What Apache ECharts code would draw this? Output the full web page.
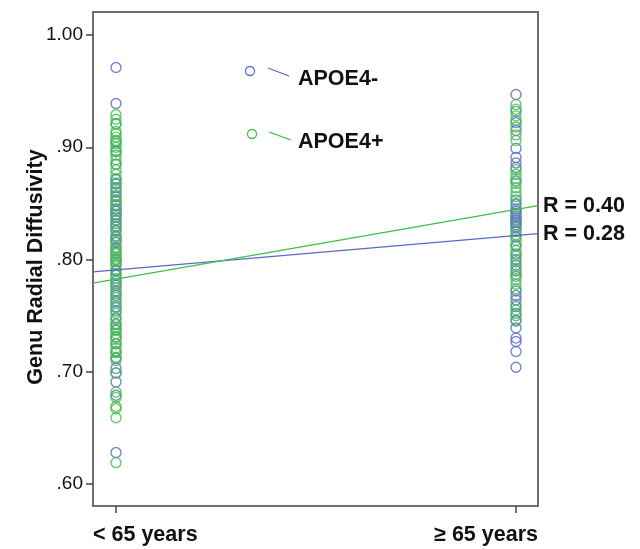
<!DOCTYPE html>
<html>
<head>
<meta charset="utf-8">
<script src="https://cdn.jsdelivr.net/npm/echarts@6/dist/echarts.min.js"></script>
<style>
html,body{margin:0;padding:0;background:#fff;}
#chart{width:640px;height:549px;}
</style>
</head>
<body>
<div id="chart"></div>
<script>
// ---- Data ----
var xLabels = ['< 65 years', '\u2265 65 years'];
var yTicks = [0.6, 0.7, 0.8, 0.9, 1.0];
var seriesNames = ['APOE4-', 'APOE4+'];

// APOE4- (blue), age < 65
var negYoung = [0.971, 0.939, 0.921, 0.905, 0.896, 0.885, 0.872, 0.868, 0.864, 0.860, 0.856, 0.852,
  0.848, 0.845, 0.843, 0.840, 0.838, 0.835, 0.832, 0.829, 0.826, 0.821, 0.818, 0.815, 0.810, 0.806,
  0.800, 0.795, 0.790, 0.786, 0.781, 0.777, 0.772, 0.768, 0.763, 0.758, 0.754, 0.748, 0.742, 0.737,
  0.731, 0.725, 0.718, 0.712, 0.703, 0.699, 0.691, 0.679, 0.628];
// APOE4- (blue), age >= 65
var negOld = [0.947, 0.932, 0.922, 0.915, 0.899, 0.891, 0.886, 0.882, 0.870, 0.853, 0.849, 0.845,
  0.843, 0.841, 0.839, 0.837, 0.835, 0.833, 0.831, 0.829, 0.825, 0.820, 0.812, 0.805, 0.800, 0.795,
  0.790, 0.785, 0.772, 0.768, 0.764, 0.758, 0.752, 0.746, 0.739, 0.730, 0.727, 0.718, 0.704];
// APOE4+ (green), age < 65
var posYoung = [0.929, 0.925, 0.921, 0.914, 0.912, 0.909, 0.906, 0.903, 0.900, 0.897, 0.893, 0.889,
  0.885, 0.880, 0.876, 0.871, 0.867, 0.862, 0.857, 0.853, 0.849, 0.845, 0.840, 0.835, 0.830, 0.825,
  0.820, 0.816, 0.811, 0.808, 0.805, 0.802, 0.800, 0.798, 0.796, 0.791, 0.787, 0.783, 0.779, 0.775,
  0.770, 0.766, 0.761, 0.757, 0.752, 0.747, 0.743, 0.740, 0.738, 0.734, 0.731, 0.729, 0.725, 0.721,
  0.717, 0.713, 0.710, 0.699, 0.682, 0.677, 0.669, 0.667, 0.659, 0.619];
// APOE4+ (green), age >= 65
var posOld = [0.938, 0.934, 0.928, 0.924, 0.918, 0.911, 0.906, 0.880, 0.876, 0.872, 0.868, 0.864,
  0.860, 0.856, 0.850, 0.838, 0.827, 0.822, 0.817, 0.813, 0.808, 0.803, 0.798, 0.792, 0.787, 0.782,
  0.778, 0.774, 0.760, 0.755, 0.750, 0.745];

// Fit lines: values at the left and right edges of the plot
var fitNeg = [0.789, 0.823];
var fitPos = [0.779, 0.848];
var rLabels = ['R = 0.28', 'R = 0.40'];

var XMIN = -0.0575, XMAX = 1.055;
var YMIN = 0.5804, YMAX = 1.0205;

var BLUE = '#5868cc';
var GREEN = '#3fbf45';
var FRAME = '#6e6e6e';
var FONT = 'Liberation Sans, Arial, sans-serif';
var BIG = 21.5;

function pts(arr, x) { return arr.map(function (v) { return [x, v]; }); }

var chart = echarts.init(document.getElementById('chart'), null, {renderer: 'canvas'});

var baseX = {
  type: 'value', min: XMIN, max: XMAX, position: 'bottom',
  splitLine: {show: false}
};

chart.setOption({
  animation: false,
  backgroundColor: '#fff',
  grid: {left: 93, right: 102, top: 12, bottom: 43, show: true, borderColor: FRAME, borderWidth: 2},
  xAxis: [
    Object.assign({}, baseX, {
      axisLine: {show: true, onZero: false, lineStyle: {color: FRAME, width: 2}},
      axisTick: {show: true, inside: false, customValues: [0, 1], length: 7, lineStyle: {color: '#444', width: 1.5}},
      axisLabel: {customValues: [XMIN], showMinLabel: true, align: 'left', margin: 18,
        fontFamily: FONT, fontSize: BIG, fontWeight: 'bold', color: '#111',
        formatter: function () { return xLabels[0]; }}
    }),
    Object.assign({}, baseX, {
      axisLine: {show: false, onZero: false}, axisTick: {show: false},
      axisLabel: {customValues: [XMAX], showMaxLabel: true, align: 'right', margin: 18,
        fontFamily: FONT, fontSize: BIG, fontWeight: 'bold', color: '#111',
        formatter: function () { return xLabels[1]; }}
    })
  ],
  yAxis: {
    type: 'value', min: YMIN, max: YMAX,
    name: 'Genu Radial Diffusivity', nameLocation: 'middle', nameGap: 46, nameMoveOverlap: false,
    nameTextStyle: {fontFamily: FONT, fontSize: BIG, fontWeight: 'bold', color: '#111', padding: [0, 16, 0, 0]},
    splitLine: {show: false},
    axisLine: {show: true, onZero: false, lineStyle: {color: FRAME, width: 2}},
    axisTick: {show: true, inside: false, customValues: yTicks, length: 7, lineStyle: {color: '#444', width: 1.5}},
    axisLabel: {customValues: yTicks, margin: 10,
      fontFamily: FONT, fontSize: 19, color: '#111',
      formatter: function (v) { return v >= 0.999 ? '1.00' : '.' + v.toFixed(2).slice(2); }}
  },
  series: [
    {name: seriesNames[0], type: 'scatter', symbol: 'circle', symbolSize: 10,
      itemStyle: {color: 'rgba(0,0,0,0)', borderColor: BLUE, borderWidth: 1.4},
      data: pts(negYoung, 0).concat(pts(negOld, 1))},
    {name: seriesNames[1], type: 'scatter', symbol: 'circle', symbolSize: 10,
      itemStyle: {color: 'rgba(0,0,0,0)', borderColor: GREEN, borderWidth: 1.4},
      data: pts(posYoung, 0).concat(pts(posOld, 1))},
    {type: 'line', showSymbol: false, symbol: 'none', silent: true,
      lineStyle: {color: BLUE, width: 1.2},
      data: [[XMIN, fitNeg[0]], [XMAX, fitNeg[1]]],
      endLabel: {show: true, formatter: rLabels[0], distance: 5,
        fontFamily: FONT, fontSize: BIG, fontWeight: 'bold', color: '#111'}},
    {type: 'line', showSymbol: false, symbol: 'none', silent: true,
      lineStyle: {color: GREEN, width: 1.2},
      data: [[XMIN, fitPos[0]], [XMAX, fitPos[1]]],
      endLabel: {show: true, formatter: rLabels[1], distance: 5,
        fontFamily: FONT, fontSize: BIG, fontWeight: 'bold', color: '#111'}}
  ],
  graphic: [
    {type: 'circle', shape: {cx: 250, cy: 71, r: 4.5}, style: {fill: 'none', stroke: BLUE, lineWidth: 1.3}},
    {type: 'line', shape: {x1: 268, y1: 68, x2: 289, y2: 76}, style: {stroke: BLUE, lineWidth: 1.3}},
    {type: 'text', left: 298, top: 68, style: {text: seriesNames[0], fontFamily: FONT,
      fontSize: BIG, fontWeight: 'bold', fill: '#111'}},
    {type: 'circle', shape: {cx: 252, cy: 134, r: 4.5}, style: {fill: 'none', stroke: GREEN, lineWidth: 1.3}},
    {type: 'line', shape: {x1: 269, y1: 132, x2: 291, y2: 140}, style: {stroke: GREEN, lineWidth: 1.3}},
    {type: 'text', left: 298, top: 131, style: {text: seriesNames[1], fontFamily: FONT,
      fontSize: BIG, fontWeight: 'bold', fill: '#111'}}
  ]
});
</script>
</body>
</html>
